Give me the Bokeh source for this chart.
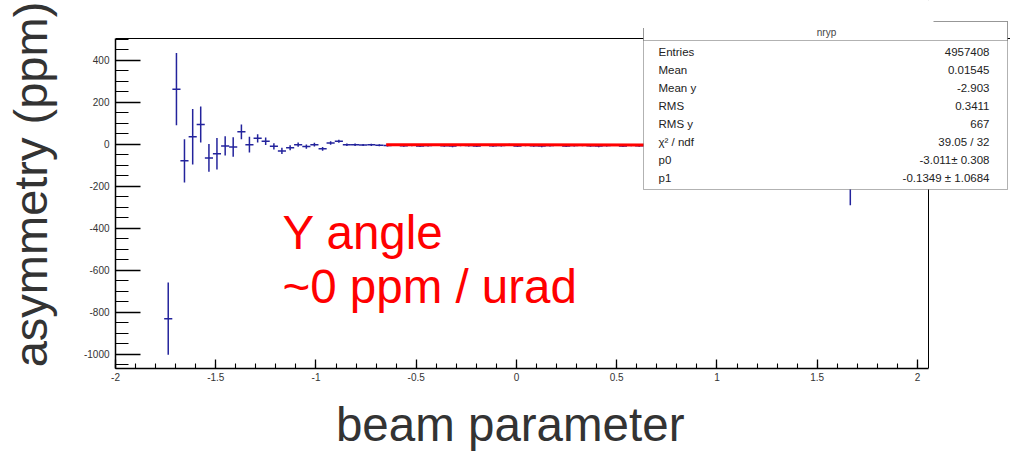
import numpy as np
from bokeh.plotting import figure
from bokeh.models import Range1d, FixedTicker, Label, BoxAnnotation, Span
from bokeh.embed import file_html
from bokeh.resources import INLINE

# ---------------- data ----------------
bin_centers = [-1.737, -1.696, -1.656, -1.615, -1.575, -1.534, -1.494, -1.453,
               -1.413, -1.372, -1.332, -1.291, -1.251, -1.210, -1.170, -1.129,
               -1.089, -1.048, -1.008, -0.967, -0.927, -0.886, -0.846, -0.805,
               -0.765, -0.724, -0.684, -0.643, -0.603, -0.562, -0.522, -0.481,
               -0.441, -0.400, -0.360, -0.319, -0.279, -0.238, -0.198, -0.157,
               -0.117, -0.076, -0.036, 0.005, 0.045, 0.086, 0.126, 0.167,
               0.207, 0.248, 0.288, 0.329, 0.369, 0.410, 0.450, 0.491,
               0.531, 0.572, 0.612, 0.653, 0.693, 0.734, 0.774, 0.815,
               0.855, 1.665]
asym = [-830, 262, -79, 35, 94, -65, -45, -8,
        -13, 59, -2, 28, 14, -10, -32, -17,
        -2, -11, -2, -22, 6, 14, -2, -3,
        -4, -3, -5, -6, -4, -7, -5, -8,
        -6, -4, -7, -9, -5, -6, -8, -4,
        -7, -6, -3, -8, -5, -7, -9, -6,
        -4, -8, -6, -5, -7, -9, -6, -4,
        -8, -5, -7, -6, -4, -5, -6, -3,
        -5, -40]
asym_err = [172, 172, 103, 132, 86, 66, 75, 46,
            46, 35, 37, 20, 18, 15, 15, 12,
            10, 10, 9, 9, 8, 7, 6, 6,
            5, 5, 5, 5, 5, 5, 5, 5,
            5, 5, 5, 5, 5, 5, 5, 5,
            5, 5, 5, 5, 5, 5, 5, 5,
            5, 5, 5, 5, 5, 5, 5, 5,
            5, 5, 5, 5, 5, 5, 5, 5,
            5, 250]
bin_width = 0.0405

fit_p0 = -3.011
fit_p1 = -0.1349
fit_range = [-0.65, 0.65]

x_ticks = [-2, -1.5, -1, -0.5, 0, 0.5, 1, 1.5, 2]
x_tick_labels = ["-2", "-1.5", "-1", "-0.5", "0", "0.5", "1", "1.5", "2"]
y_ticks = [-1000, -800, -600, -400, -200, 0, 200, 400]
y_tick_labels = ["-1000", "-800", "-600", "-400", "-200", "0", "200", "400"]

stats_title = "nryp"
stats_names = ["Entries", "Mean", "Mean y", "RMS", "RMS y", "χ² / ndf", "p0", "p1"]
stats_values = ["4957408", "0.01545", "-2.903", "0.3411", "667",
                "39.05 / 32", "-3.011± 0.308", "-0.1349 ± 1.0684"]

y_title = "asymmetry (ppm)"
x_title = "beam parameter"
note_lines = ["Y angle", "~0 ppm / urad"]

# ---------------- layout ----------------
W, H = 1010, 459
# ROOT pad frame, in page pixels
FR_L, FR_R, FR_T, FR_B = 115, 928, 38, 368
AX_X = (-2.0, 2.055)
AX_Y = (-1067.0, 503.0)
PX_X = (FR_R - FR_L) / (AX_X[1] - AX_X[0])
PX_Y = (FR_B - FR_T) / (AX_Y[1] - AX_Y[0])
# Bokeh frame spans to the right and top canvas edges so the stats box fits
X_MIN = AX_X[0]
X_MAX = AX_X[0] + (W - FR_L) / PX_X
Y_MIN = AX_Y[0]
Y_MAX = AX_Y[1] + FR_T / PX_Y

def xd(px):
    return AX_X[0] + (px - FR_L) / PX_X

def yd(py):
    return AX_Y[1] - (py - FR_T) / PX_Y

BLUE = "#23239c"
FONT = "Liberation Sans"
TXT = "#333333"

p = figure(width=W, height=H, x_range=Range1d(X_MIN, X_MAX),
           y_range=Range1d(Y_MIN, Y_MAX), output_backend="svg",
           toolbar_location=None, title=None,
           min_border_left=FR_L, min_border_right=0,
           min_border_top=0, min_border_bottom=H - FR_B)
p.xgrid.visible = False
p.ygrid.visible = False
p.outline_line_color = None
p.background_fill_color = "white"
p.border_fill_color = "white"

xminor = [round(v, 2) for v in np.arange(-2.0, 2.051, 0.1)]
yminor = list(range(-1050, 501, 50))
p.xaxis.ticker = FixedTicker(ticks=x_ticks, minor_ticks=xminor)
p.yaxis.ticker = FixedTicker(ticks=y_ticks, minor_ticks=yminor)
p.xaxis.major_label_overrides = {t: s for t, s in zip(x_ticks, x_tick_labels)}
p.yaxis.major_label_overrides = {t: s for t, s in zip(y_ticks, y_tick_labels)}
p.xaxis.bounds = AX_X
p.yaxis.bounds = AX_Y

for ax in (p.xaxis[0], p.yaxis[0]):
    ax.axis_line_color = "black"
    ax.axis_line_width = 1.5
    ax.major_tick_line_color = "black"
    ax.minor_tick_line_color = "black"
    ax.major_tick_line_width = 1.3
    ax.minor_tick_line_width = 1.1
    ax.major_tick_out = 0
    ax.minor_tick_out = 0
    ax.major_label_text_font = FONT
    ax.major_label_text_font_size = "10px"
    ax.major_label_text_color = TXT
    ax.axis_label_text_font = FONT
    ax.axis_label_text_font_style = "normal"
    ax.axis_label_text_color = TXT

p.xaxis.major_tick_in = 9
p.xaxis.minor_tick_in = 5
p.xaxis.major_label_standoff = 4
p.yaxis.major_tick_in = 25
p.yaxis.minor_tick_in = 13
p.yaxis.major_label_standoff = 6

p.yaxis.axis_label = y_title
p.yaxis.axis_label_text_font_size = "47px"
p.yaxis.axis_label_standoff = 24
p.xaxis.axis_label = x_title + "\u00a0" * 8
p.xaxis.axis_label_text_font_size = "47.5px"
p.xaxis.axis_label_standoff = 14

# ---------------- data marks ----------------
xc = np.array(bin_centers)
yv = np.array(asym, dtype=float)
ye = np.array(asym_err, dtype=float)
p.segment(x0=xc, y0=yv - ye, x1=xc, y1=yv + ye, line_color=BLUE, line_width=1.5)
p.segment(x0=xc - bin_width / 2, y0=yv, x1=xc + bin_width / 2, y1=yv,
          line_color=BLUE, line_width=1.5)

fx = np.array(fit_range)
fy = fit_p0 + fit_p1 * fx
p.line(x=fx, y=fy, line_color="#ff0000", line_width=3)

# ---------------- frame top / right edges ----------------
p.add_layout(Span(location=AX_Y[1], dimension="width", line_color="black", line_width=1))
p.add_layout(Span(location=AX_X[1], dimension="height", line_color="black", line_width=1))

# ---------------- stats box ----------------
p.add_layout(BoxAnnotation(left=xd(920), right=xd(1015), top=yd(-5), bottom=yd(20.5),
                           fill_color="white", fill_alpha=1.0, line_alpha=0.0))
p.add_layout(BoxAnnotation(left=xd(643), right=xd(1007), top=yd(21), bottom=yd(189),
                           fill_color="white", fill_alpha=1.0,
                           line_color="black", line_width=1))
p.add_layout(BoxAnnotation(left=xd(643), right=xd(1007), top=yd(21), bottom=yd(40),
                           fill_color="white", fill_alpha=1.0,
                           line_color="black", line_width=1))
p.add_layout(BoxAnnotation(left=xd(600), right=xd(933), top=yd(-5), bottom=yd(27.5),
                           fill_color="white", fill_alpha=1.0, line_alpha=0.0))
p.add_layout(Label(x=xd(826), y=yd(31.5), text=stats_title, text_align="center",
                   text_baseline="middle", text_font=FONT, text_font_size="10px",
                   text_color="#444444"))
for i, (nm, vl) in enumerate(zip(stats_names, stats_values)):
    yy = yd(51 + i * 18.05)
    p.add_layout(Label(x=xd(658), y=yy, text=nm, text_align="left",
                       text_baseline="middle", text_font=FONT,
                       text_font_size="11.5px", text_color="#222222"))
    p.add_layout(Label(x=xd(989), y=yy, text=vl, text_align="right",
                       text_baseline="middle", text_font=FONT,
                       text_font_size="11.5px", text_color="#222222"))

# ---------------- red note ----------------
p.add_layout(Label(x=xd(282), y=yd(232), text=note_lines[0], text_align="left",
                   text_baseline="alphabetic", text_font=FONT,
                   text_font_size="47.5px", text_color="#ff0000"))
p.add_layout(Label(x=xd(282), y=yd(286), text=note_lines[1], text_align="left",
                   text_baseline="alphabetic", text_font=FONT,
                   text_font_size="47.5px", text_color="#ff0000"))

open("out.html", "w").write(file_html(p, INLINE))
